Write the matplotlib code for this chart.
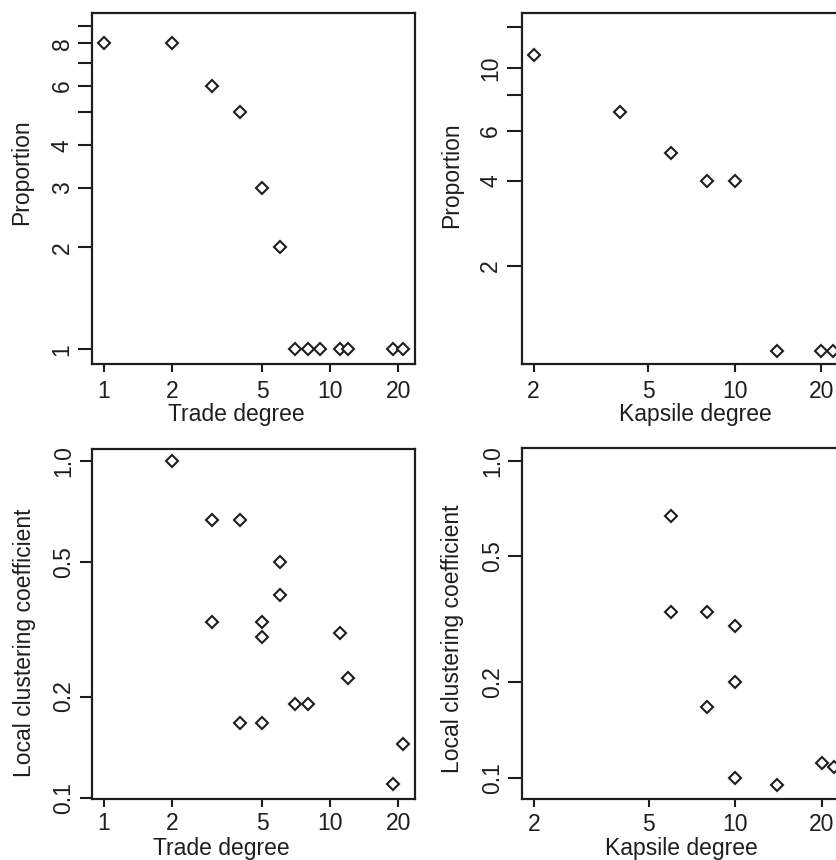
import matplotlib
matplotlib.use("Agg")
import matplotlib.pyplot as plt
from matplotlib.ticker import FixedLocator, FixedFormatter, NullLocator

# ---------------- data ----------------
trade_deg = [1, 2, 3, 4, 5, 6, 7, 8, 9, 11, 12, 19, 21]
trade_prop = [8, 8, 6, 5, 3, 2, 1, 1, 1, 1, 1, 1, 1]

kapsile_deg = [2, 4, 6, 8, 10, 14, 20, 22]
kapsile_prop = [11.1, 7, 5, 4, 4, 1, 1, 1]

trade_cc_deg = [2, 3, 4, 6, 6, 3, 5, 5, 11, 12, 7, 8, 4, 5, 21, 19]
trade_cc = [1.0, 0.667, 0.667, 0.5, 0.4, 0.333, 0.333, 0.3, 0.309, 0.227,
            0.19, 0.19, 0.167, 0.167, 0.145, 0.11]

kapsile_cc_deg = [6, 6, 8, 10, 10, 8, 10, 14, 20, 22]
kapsile_cc = [0.667, 0.333, 0.333, 0.3, 0.2, 0.167, 0.1, 0.095, 0.111, 0.108]

trade_xticks = [1, 2, 5, 10, 20]
kapsile_xticks = [2, 5, 10, 20]
prop_trade_yticks = [1, 2, 3, 4, 5, 6, 7, 8, 9]
prop_trade_ylabels = ["1", "2", "3", "4", "", "6", "", "8", ""]
prop_kap_yticks = [2, 4, 6, 8, 10, 14]
prop_kap_ylabels = ["2", "4", "6", "", "10", ""]
cc_yticks = [0.1, 0.2, 0.5, 1.0]
cc_ylabels = ["0.1", "0.2", "0.5", "1.0"]

# ---------------- style ----------------
plt.rcParams['font.family'] = ['Liberation Sans', 'DejaVu Sans']
INK = '#1e1e1e'
W, H = 836, 860
fig = plt.figure(figsize=(W / 100, H / 100), dpi=100)


def make_ax(left, top, right, bottom):
    return fig.add_axes([left / W, 1 - bottom / H, (right - left) / W, (bottom - top) / H])


def style(ax, x, y, xticks, yticks, ylabels, xlim, ylim, xlabel, ylabel,
          xlab_pos, ylab_pos, ytick_len, xpad):
    ax.plot(x, y, linestyle='none', marker='D', markersize=6.0,
            markerfacecolor='white', markeredgecolor=INK, markeredgewidth=1.5)
    ax.set_xscale('log')
    ax.set_yscale('log')
    ax.set_xlim(*xlim)
    ax.set_ylim(*ylim)
    ax.xaxis.set_major_locator(FixedLocator(xticks))
    ax.xaxis.set_major_formatter(FixedFormatter([str(t) for t in xticks]))
    ax.xaxis.set_minor_locator(NullLocator())
    ax.yaxis.set_major_locator(FixedLocator(yticks))
    ax.yaxis.set_major_formatter(FixedFormatter(ylabels))
    ax.yaxis.set_minor_locator(NullLocator())
    for s in ax.spines.values():
        s.set_linewidth(1.6)
        s.set_color(INK)
    ax.tick_params(axis='x', length=6, width=1.5, color=INK, labelsize=16.5,
                   labelcolor=INK, pad=xpad)
    ax.tick_params(axis='y', length=ytick_len, width=1.5, color=INK, labelsize=16.5,
                   labelcolor=INK, pad=3)
    for lab in ax.get_yticklabels():
        lab.set_rotation(90)
        lab.set_va('center')
    ax.set_xlabel(xlabel, fontsize=16.5, color=INK, va='center', ha='center')
    ax.set_ylabel(ylabel, fontsize=16.5, color=INK, va='center', ha='center')
    ax.xaxis.set_label_coords(*xlab_pos)
    ax.yaxis.set_label_coords(*ylab_pos)


ax1 = make_ax(91.7, 13.3, 415, 364.3)
style(ax1, trade_deg, trade_prop, trade_xticks, prop_trade_yticks, prop_trade_ylabels,
      (0.885, 23.7), (0.903, 9.8), 'Trade degree', 'Proportion',
      (0.446, -0.142), (-0.216, 0.546), 10, 5)

ax2 = make_ax(521.7, 13.3, 845, 364.3)
style(ax2, kapsile_deg, kapsile_prop, kapsile_xticks, prop_kap_yticks, prop_kap_ylabels,
      (1.817, 24.2), (0.897, 15.6), 'Kapsile degree', 'Proportion',
      (0.536, -0.142), (-0.216, 0.539), 11, 5)

ax3 = make_ax(91.7, 449, 415, 798.5)
style(ax3, trade_cc_deg, trade_cc, trade_xticks, cc_yticks, cc_ylabels,
      (0.885, 23.7), (0.0996, 1.086), 'Trade degree', 'Local clustering coefficient',
      (0.402, -0.142), (-0.209, 0.445), 9, 4)

ax4 = make_ax(522.3, 448.3, 845.6, 799)
style(ax4, kapsile_cc_deg, kapsile_cc, kapsile_xticks, cc_yticks, cc_ylabels,
      (1.817, 24.2), (0.0857, 1.094), 'Kapsile degree', 'Local clustering coefficient',
      (0.493, -0.141), (-0.216, 0.458), 10, 4)

fig.savefig('out.png', dpi=100, facecolor='white')
